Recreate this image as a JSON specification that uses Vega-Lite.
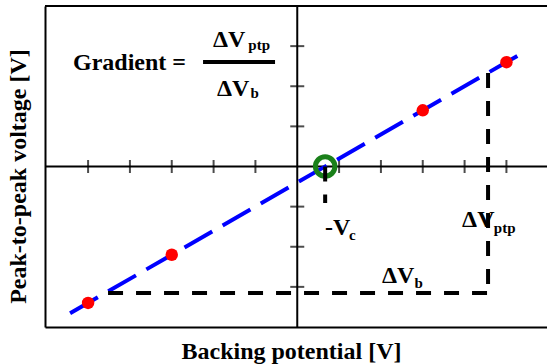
{
  "$schema": "https://vega.github.io/schema/vega-lite/v6.json",
  "width": 502,
  "height": 321,
  "autosize": {"type": "none"},
  "padding": {"left": 45, "top": 6, "right": 0, "bottom": 37},
  "background": "white",
  "config": {
    "view": {"stroke": null},
    "font": "Liberation Serif"
  },
  "datasets": {
    "frame": [
      {"x1": -6.03, "x2": 5.97, "y1": 4, "y2": 4},
      {"x1": -6.03, "x2": 5.97, "y1": 0, "y2": 0},
      {"x1": 0, "x2": 0, "y1": -4, "y2": 4}
    ],
    "xticks": [
      {"x": -5, "y": 0}, {"x": -4, "y": 0}, {"x": -3, "y": 0}, {"x": -2, "y": 0}, {"x": -1, "y": 0},
      {"x": 1, "y": 0}, {"x": 2, "y": 0}, {"x": 3, "y": 0}, {"x": 4, "y": 0}, {"x": 5, "y": 0}
    ],
    "yticks": [
      {"x": 0, "y": -3}, {"x": 0, "y": -2}, {"x": 0, "y": -1},
      {"x": 0, "y": 1}, {"x": 0, "y": 2}, {"x": 0, "y": 3}
    ],
    "fitline": [
      {"x": -5.43, "y": -3.658},
      {"x": 5.28, "y": 2.768}
    ],
    "dashes": [
      {"x1": -4.523, "x2": 4.561, "y1": -3.15, "y2": -3.15},
      {"x1": 4.561, "x2": 4.561, "y1": 2.33, "y2": -3.15},
      {"x1": 0.667, "x2": 0.667, "y1": 0, "y2": -0.91}
    ],
    "points": [
      {"x": -5, "y": -3.4},
      {"x": -3, "y": -2.2},
      {"x": 3, "y": 1.4},
      {"x": 5, "y": 2.6}
    ],
    "ring": [{"x": 0.667, "y": 0}],
    "bar": [{"x1": -2.252, "x2": -0.531, "y": 2.604}],
    "big": [{"x": -5.36, "y": 2.405, "text": "Gradient ="}],
    "mid": [
      {"x": -2.013, "y": 2.978, "text": "ΔV"},
      {"x": -1.917, "y": 1.757, "text": "ΔV"},
      {"x": 0.665, "y": -1.707, "text": "-V"},
      {"x": 3.94, "y": -1.507, "text": "ΔV"},
      {"x": 2.027, "y": -2.903, "text": "ΔV"}
    ],
    "sub": [
      {"x": -1.17, "y": 2.903, "text": "ptp"},
      {"x": -1.12, "y": 1.707, "text": "b"},
      {"x": 1.238, "y": -1.832, "text": "c"},
      {"x": 4.70, "y": -1.657, "text": "ptp"},
      {"x": 2.80, "y": -3.028, "text": "b"}
    ]
  },
  "encoding": {
    "x": {
      "field": "x",
      "type": "quantitative",
      "scale": {"domain": [-6.03, 5.97], "nice": false, "zero": false},
      "axis": {
        "title": "Backing potential [V]",
        "orient": "bottom",
        "domain": true, "domainColor": "black", "domainWidth": 2,
        "ticks": false, "labels": false, "grid": false,
        "titleFont": "Liberation Serif", "titleFontSize": 24, "titleFontWeight": "bold", "titleColor": "black",
        "titleAlign": "center", "titleBaseline": "alphabetic",
        "titleX": 246, "titleY": 31
      }
    },
    "y": {
      "field": "y",
      "type": "quantitative",
      "scale": {"domain": [-4, 4], "nice": false, "zero": false},
      "axis": {
        "title": "Peak-to-peak voltage [V]",
        "orient": "left",
        "domain": true, "domainColor": "black", "domainWidth": 2,
        "ticks": false, "labels": false, "grid": false,
        "titleFont": "Liberation Serif", "titleFontSize": 24, "titleFontWeight": "bold", "titleColor": "black",
        "titleAlign": "center", "titleBaseline": "alphabetic", "titleAngle": -90,
        "titleX": -20, "titleY": 170
      }
    }
  },
  "layer": [
    {
      "data": {"name": "frame"},
      "mark": {"type": "rule", "color": "black", "strokeWidth": 2},
      "encoding": {
        "x": {"field": "x1", "type": "quantitative"},
        "x2": {"field": "x2"},
        "y": {"field": "y1", "type": "quantitative"},
        "y2": {"field": "y2"}
      }
    },
    {
      "data": {"name": "xticks"},
      "mark": {"type": "tick", "orient": "vertical", "color": "black", "size": 13, "thickness": 2},
      "encoding": {}
    },
    {
      "data": {"name": "yticks"},
      "mark": {"type": "tick", "orient": "horizontal", "color": "black", "size": 14, "thickness": 2},
      "encoding": {}
    },
    {
      "data": {"name": "fitline"},
      "mark": {"type": "line", "color": "#0000ff", "strokeWidth": 4, "strokeDash": [32, 12], "strokeCap": "butt"},
      "encoding": {}
    },
    {
      "data": {"name": "ring"},
      "mark": {"type": "point", "shape": "circle", "filled": false, "color": "#1a801a", "strokeWidth": 5, "size": 380, "opacity": 1},
      "encoding": {}
    },
    {
      "data": {"name": "dashes"},
      "mark": {"type": "rule", "color": "black", "strokeWidth": 4, "strokeDash": [15, 13], "strokeCap": "butt"},
      "encoding": {
        "x": {"field": "x1", "type": "quantitative"},
        "x2": {"field": "x2"},
        "y": {"field": "y1", "type": "quantitative"},
        "y2": {"field": "y2"}
      }
    },
    {
      "data": {"name": "points"},
      "mark": {"type": "point", "shape": "circle", "filled": true, "color": "#ff0000", "size": 155, "opacity": 1},
      "encoding": {}
    },
    {
      "data": {"name": "bar"},
      "mark": {"type": "rule", "color": "black", "strokeWidth": 4},
      "encoding": {
        "x": {"field": "x1", "type": "quantitative"},
        "x2": {"field": "x2"}
      }
    },
    {
      "data": {"name": "big"},
      "mark": {"type": "text", "align": "left", "baseline": "alphabetic", "font": "Liberation Serif", "fontWeight": "bold", "fontSize": 24, "color": "black"},
      "encoding": {"text": {"field": "text"}}
    },
    {
      "data": {"name": "mid"},
      "mark": {"type": "text", "align": "left", "baseline": "alphabetic", "font": "Liberation Serif", "fontWeight": "bold", "fontSize": 24, "color": "black"},
      "encoding": {"text": {"field": "text"}}
    },
    {
      "data": {"name": "sub"},
      "mark": {"type": "text", "align": "left", "baseline": "alphabetic", "font": "Liberation Serif", "fontWeight": "bold", "fontSize": 15, "color": "black"},
      "encoding": {"text": {"field": "text"}}
    }
  ]
}
